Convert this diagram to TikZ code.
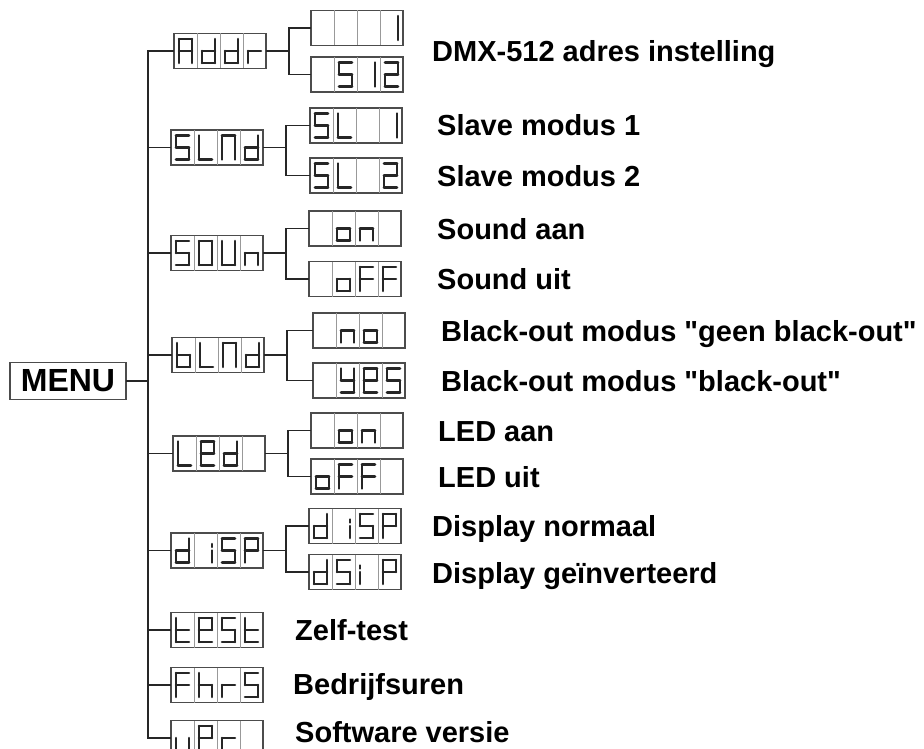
\documentclass[tikz,border=0pt]{standalone}
\usepackage{fontspec}
\setmainfont{Liberation Sans}[Ligatures=TeXOff]
\usetikzlibrary{calc}

\newcommand\defglyph[2]{\expandafter\def\csname seg-#1\endcsname{#2}}
\defglyph{-}{}
\defglyph{A}{tl/tr,tr/mr,mr/br,ml/bl,tl/ml,ml/mr}
\defglyph{d}{tr/mr,mr/br,bl/br,ml/bl,ml/mr}
\defglyph{r}{ml/bl,ml/mr}
\defglyph{S}{tl/tr,tl/ml,ml/mr,mr/br,bl/br}
\defglyph{5}{tl/tr,tl/ml,ml/mr,mr/br,bl/br}
\defglyph{L}{tl/ml,ml/bl,bl/br}
\defglyph{N}{tl/tr,tr/mr,mr/br,tl/ml,ml/bl}
\defglyph{O}{tl/tr,tr/mr,mr/br,bl/br,ml/bl,tl/ml}
\defglyph{U}{tr/mr,mr/br,bl/br,ml/bl,tl/ml}
\defglyph{n}{ml/mr,mr/br,ml/bl}
\defglyph{o}{ml/mr,mr/br,bl/br,ml/bl}
\defglyph{F}{tl/tr,tl/ml,ml/mr,ml/bl}
\defglyph{b}{tl/ml,ml/bl,bl/br,mr/br,ml/mr}
\defglyph{E}{tl/tr,tr/mr,tl/ml,ml/mr,ml/bl,bl/br}
\defglyph{Y}{tl/ml,tr/mr,ml/mr,mr/br,bl/br}
\defglyph{P}{tl/tr,tr/mr,tl/ml,ml/mr,ml/bl}
\defglyph{t}{tl/ml,ml/mr,ml/bl,bl/br}
\defglyph{h}{tl/ml,ml/mr,ml/bl,mr/br}
\defglyph{v}{ml/bl,bl/br,mr/br}
\defglyph{1}{tr/mr,mr/br}
\defglyph{2}{tl/tr,tr/mr,ml/mr,ml/bl,bl/br}
\defglyph{i}{ra/rb,mr/br}
\defglyph{j}{la/lb,ml/bl}

\newcommand\showcells[2]{%
  \foreach \ch [count=\i from 0] in #2 {%
    \begin{scope}[shift={($(#1.north west)+(\i*23+0.8,0.8)$)}]
      \ifnum\i>0 \draw[cell] (0,0) -- (0,35);\fi
      \coordinate (tl) at (5,5.5);  \coordinate (tr) at (18,5.5);
      \coordinate (ml) at (5,17.5); \coordinate (mr) at (18,17.5);
      \coordinate (bl) at (5,29.5); \coordinate (br) at (18,29.5);
      \coordinate (la) at (5,11); \coordinate (lb) at (5,14);
      \coordinate (ra) at (18,11); \coordinate (rb) at (18,14);
      \edef\glyph{\csname seg-\ch\endcsname}%
      \ifx\glyph\empty\else
        \foreach \p/\q in \glyph {\draw[seg] (\p) -- (\q);}%
      \fi
    \end{scope}
  }}

\begin{document}
\begin{tikzpicture}[x=1pt, y=-1pt,
    box/.style={draw=black!70, line width=1.6pt, minimum width=92pt, minimum height=35pt, inner sep=0pt},
    cell/.style={black!40, line width=1pt},
    seg/.style={black!85, line width=2.6pt, line cap=round},
    wire/.style={black!85, line width=1.8pt, line cap=rect},
    lbl/.style={anchor=base west, inner sep=0pt, font=\fontsize{29}{30}\selectfont\bfseries}]
  \useasboundingbox (0,0) rectangle (924,749);
  \coordinate (trunk) at (148,0);

  \node[box, minimum width=116pt, minimum height=37pt, font=\fontsize{32}{32}\selectfont\bfseries] (menu) at (68,381) {MENU};

  \foreach \n/\x/\y/\s in {addr/220/51/{A,d,d,r}, slnd/217/147.5/{S,L,N,d},
      soun/217/253/{S,O,U,n}, blnd/218/355/{b,L,N,d}, led/219/453.5/{L,E,d,-},
      disp/217/550.5/{d,i,S,P}, test/217/630/{t,E,S,t}, fhrs/217/685/{F,h,r,S},
      ver/217/738/{v,E,r,-}} {
    \node[box] (\n) at (\x,\y) {};
    \showcells{\n}{\s}
  }

  \foreach \n/\x/\y/\s in {addr1/357/28/{-,-,-,1}, addr2/357/74.5/{-,5,1,2},
      slnd1/356/125.5/{S,L,-,1}, slnd2/356/175.5/{S,L,-,2},
      soun1/355/228.5/{-,o,n,-}, soun2/355/279/{-,o,F,F},
      blnd1/359/330.5/{-,n,o,-}, blnd2/359/380.5/{-,Y,E,S},
      led1/357/430.5/{-,o,n,-}, led2/357/476.5/{o,F,F,-},
      disp1/355/526/{d,i,S,P}, disp2/355/572/{d,S,j,P}} {
    \node[box] (\n) at (\x,\y) {};
    \showcells{\n}{\s}
  }

  \draw[wire] (menu.east) -- (menu.east -| trunk);
  \draw[wire] (addr.west -| trunk) -- (ver.west -| trunk);
  \foreach \n in {addr,slnd,soun,blnd,led,disp,test,fhrs,ver}
    \draw[wire] (\n.west) -- (\n.west -| trunk);
  \foreach \n in {addr,slnd,soun,blnd,led,disp} {
    \draw[wire] (\n.east) -- ++(22,0) coordinate (fork) |- (\n1.west);
    \draw[wire] (fork) |- (\n2.west);
  }

  \foreach \x/\y/\t [count=\k] in {432/62/DMX-512 adres instelling,
      437/136/Slave modus 1, 437/186/Slave modus 2,
      437/239/Sound aan, 437/289/Sound uit,
      441/341/Black-out modus "geen black-out",
      441/391/Black-out modus "black-out",
      438/441/LED aan, 438/487/LED uit,
      432/536/Display normaal, 432/583/Display geïnverteerd,
      295/640/Zelf-test, 293/694/Bedrijfsuren, 295/742/Software versie}
    \node[lbl] (l\k) at (\x,\y) {\t};
\end{tikzpicture}
\end{document}
